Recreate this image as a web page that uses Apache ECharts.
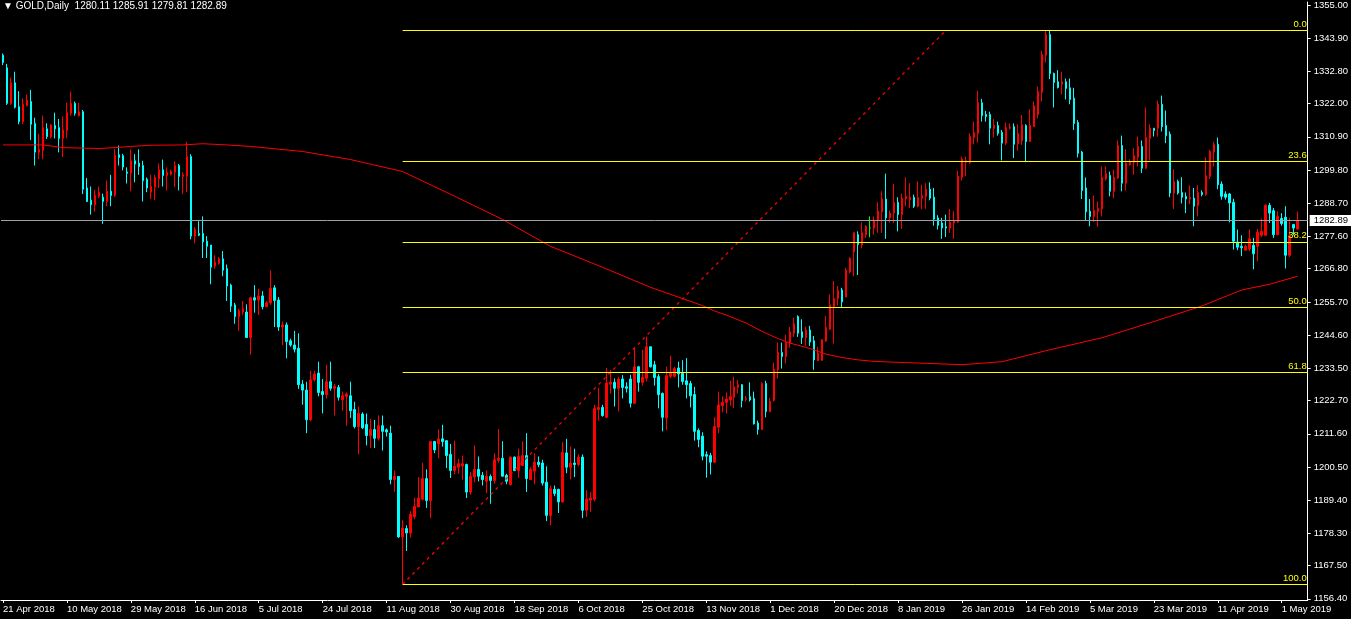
<!DOCTYPE html>
<html><head><meta charset="utf-8">
<script src="https://cdn.jsdelivr.net/npm/echarts@6/dist/echarts.min.js"></script>
<style>html,body{margin:0;padding:0;background:#000;}#c{width:1351px;height:619px;}</style>
</head><body><div id="c"></div>
<script>
const symbolName = 'GOLD,Daily';
const dateLabels = ['21 Apr 2018','10 May 2018','29 May 2018','16 Jun 2018','5 Jul 2018','24 Jul 2018','11 Aug 2018','30 Aug 2018','18 Sep 2018','6 Oct 2018','25 Oct 2018','13 Nov 2018','1 Dec 2018','20 Dec 2018','8 Jan 2019','26 Jan 2019','14 Feb 2019','5 Mar 2019','23 Mar 2019','11 Apr 2019','1 May 2019'];
const labelStep = 16;
const priceTicks = [1355.00,1343.90,1332.80,1322.00,1310.90,1299.80,1288.70,1277.60,1266.80,1255.70,1244.60,1233.50,1222.70,1211.60,1200.50,1189.40,1178.30,1167.50,1156.40];
// [open, close, low, high]
const candles = [
[1338.2,1335.8,1334.9,1338.8],[1334.0,1322.1,1321.6,1335.3],[1322.1,1329.0,1321.6,1330.7],[1329.0,1320.8,1320.4,1332.7],
[1321.0,1316.0,1315.1,1326.2],[1316.0,1321.8,1315.1,1323.8],[1321.3,1323.2,1321.2,1325.1],[1322.7,1315.1,1309.8,1326.6],
[1315.4,1305.8,1301.3,1317.3],[1305.8,1306.7,1303.4,1311.9],[1306.3,1314.0,1303.4,1318.0],[1313.6,1311.0,1310.2,1315.4],
[1311.0,1314.9,1310.4,1315.1],[1314.7,1313.6,1310.4,1319.0],[1314.0,1310.4,1305.7,1316.9],[1310.4,1313.2,1304.1,1317.7],
[1313.0,1319.0,1310.4,1322.4],[1318.8,1322.1,1318.0,1326.0],[1322.1,1318.8,1318.0,1322.7],[1318.0,1319.3,1317.7,1322.3],
[1319.3,1293.4,1291.8,1319.9],[1293.8,1289.3,1289.1,1297.1],[1289.7,1288.2,1284.9,1294.3],[1288.2,1291.3,1285.8,1293.2],
[1291.0,1292.3,1290.4,1294.3],[1290.7,1289.3,1281.8,1291.9],[1289.3,1292.7,1287.7,1296.3],[1292.7,1291.3,1287.7,1298.2],
[1291.3,1304.7,1290.8,1306.9],[1304.9,1304.0,1301.3,1308.0],[1304.6,1300.8,1299.7,1305.2],[1299.1,1298.7,1295.3,1300.7],
[1298.8,1302.9,1292.7,1306.7],[1302.9,1301.8,1295.7,1305.1],[1302.1,1301.0,1298.2,1306.7],[1301.3,1296.2,1289.3,1302.9],
[1296.7,1293.8,1292.4,1297.3],[1292.4,1294.3,1290.1,1298.2],[1294.1,1297.3,1289.7,1298.2],[1296.9,1299.9,1293.8,1302.0],
[1299.9,1298.0,1294.3,1303.3],[1298.0,1299.0,1293.0,1300.7],[1298.4,1299.3,1298.0,1299.9],[1299.1,1301.3,1294.1,1302.7],
[1301.3,1297.7,1293.0,1301.8],[1297.7,1298.2,1291.8,1299.1],[1297.7,1304.3,1292.4,1309.3],[1304.3,1277.7,1276.6,1305.1],
[1277.7,1279.9,1275.3,1280.7],[1278.6,1278.0,1277.7,1282.7],[1278.6,1275.8,1270.4,1284.3],[1276.0,1274.3,1270.4,1277.7],
[1274.7,1267.3,1261.6,1274.7],[1267.7,1269.0,1266.8,1271.3],[1268.6,1270.1,1268.2,1270.7],[1270.1,1266.3,1264.3,1272.7],
[1266.8,1261.0,1256.0,1268.2],[1261.3,1254.3,1252.3,1261.8],[1254.7,1250.8,1248.4,1255.4],[1250.8,1252.7,1246.0,1253.4],
[1252.3,1253.4,1251.3,1256.0],[1252.3,1243.8,1243.6,1254.9],[1243.8,1257.1,1238.0,1257.4],[1257.1,1256.3,1252.1,1261.3],
[1256.3,1257.7,1251.3,1260.1],[1257.7,1254.1,1253.2,1259.3],[1254.1,1255.4,1254.0,1256.0],[1255.4,1260.2,1254.7,1266.3],
[1260.4,1256.2,1247.3,1261.3],[1256.3,1247.3,1246.0,1257.3],[1247.3,1248.0,1241.3,1249.1],[1248.0,1242.4,1236.8,1248.8],
[1242.7,1241.3,1240.7,1243.4],[1241.3,1239.9,1238.8,1246.0],[1240.2,1228.0,1226.6,1245.2],[1228.2,1226.2,1221.3,1229.6],
[1226.2,1216.3,1211.8,1229.0],[1216.3,1229.6,1215.8,1232.7],[1229.6,1231.6,1229.1,1232.7],[1231.9,1225.4,1224.1,1235.7],
[1225.7,1224.7,1218.4,1229.9],[1224.7,1229.0,1223.4,1234.7],[1229.0,1226.8,1226.0,1235.7],[1226.8,1227.4,1217.7,1228.2],
[1227.1,1223.8,1222.7,1227.9],[1223.0,1224.3,1219.3,1225.7],[1224.1,1224.9,1214.3,1225.4],[1224.3,1219.3,1216.9,1229.0],
[1219.7,1214.0,1213.4,1222.3],[1214.0,1218.4,1204.7,1220.7],[1218.2,1213.6,1213.2,1218.8],[1214.7,1211.0,1207.7,1218.4],
[1211.0,1213.0,1206.8,1216.6],[1213.0,1210.1,1206.8,1216.2],[1210.1,1214.3,1209.3,1217.7],[1214.3,1212.4,1206.0,1217.7],
[1212.9,1212.2,1210.7,1213.4],[1211.8,1196.3,1194.7,1214.3],[1196.3,1197.3,1192.1,1199.3],[1197.3,1177.1,1176.8,1197.3],
[1177.1,1180.1,1161.2,1182.7],[1179.9,1178.4,1172.4,1181.0],[1178.4,1184.7,1176.9,1185.7],[1183.8,1187.3,1183.0,1190.2],
[1187.1,1190.1,1187.1,1197.1],[1189.7,1196.6,1189.3,1201.9],[1196.6,1189.3,1186.8,1199.7],[1189.3,1209.0,1183.4,1209.0],
[1209.0,1206.2,1205.1,1209.0],[1208.2,1209.9,1203.4,1213.0],[1209.9,1209.0,1207.3,1214.6],[1209.3,1204.3,1200.1,1209.3],
[1204.7,1199.3,1196.8,1208.2],[1199.3,1200.7,1198.0,1209.3],[1200.4,1201.6,1198.2,1203.2],[1200.8,1201.6,1196.2,1204.3],
[1201.3,1192.1,1190.1,1201.6],[1192.1,1197.3,1191.2,1198.8],[1197.1,1199.7,1195.4,1207.7],[1199.7,1197.4,1195.7,1204.0],
[1197.7,1196.3,1194.3,1198.8],[1195.7,1197.3,1191.8,1199.3],[1197.3,1196.0,1188.2,1198.0],[1196.0,1202.9,1194.9,1205.1],
[1202.7,1203.4,1201.9,1213.2],[1203.4,1197.4,1197.3,1209.1],[1197.7,1195.7,1194.7,1198.2],[1194.6,1203.8,1194.3,1204.0],
[1203.8,1199.3,1199.1,1204.0],[1199.3,1204.0,1196.9,1206.6],[1201.0,1204.3,1200.8,1209.1],[1204.3,1196.6,1192.1,1211.8],
[1196.3,1199.7,1196.2,1200.4],[1199.1,1202.1,1194.7,1205.1],[1202.1,1201.3,1200.4,1204.0],[1201.8,1195.1,1194.3,1202.9],
[1195.4,1184.3,1182.4,1200.7],[1184.3,1193.2,1181.0,1194.3],[1193.0,1191.6,1190.7,1194.3],[1193.0,1188.8,1185.1,1193.2],
[1188.8,1205.4,1188.6,1208.8],[1205.2,1200.4,1198.4,1209.9],[1200.4,1201.8,1196.3,1207.3],[1201.8,1201.3,1197.1,1206.6],
[1201.3,1203.8,1200.7,1204.7],[1203.8,1186.0,1183.4,1204.7],[1186.0,1189.7,1183.8,1192.7],[1189.4,1190.1,1185.4,1192.1],
[1189.7,1220.1,1189.0,1221.3],[1219.7,1220.4,1216.0,1226.9],[1220.4,1217.7,1217.3,1221.3],[1217.1,1228.6,1216.9,1233.6],
[1228.2,1228.8,1225.1,1233.0],[1228.8,1226.8,1220.7,1230.1],[1226.8,1229.9,1219.1,1230.7],[1229.9,1227.1,1223.4,1231.2],
[1227.3,1226.8,1225.4,1228.8],[1229.9,1221.8,1220.4,1231.3],[1221.8,1234.0,1221.6,1240.2],[1234.0,1228.8,1225.7,1234.3],
[1228.8,1230.4,1227.7,1239.7],[1230.2,1240.7,1229.1,1244.1],[1240.7,1234.0,1233.8,1240.7],[1234.7,1230.4,1227.7,1236.0],
[1230.7,1224.7,1220.1,1231.6],[1225.1,1217.1,1212.4,1225.4],[1216.9,1231.0,1212.9,1234.0],[1230.8,1231.8,1230.1,1237.7],
[1230.8,1233.4,1230.4,1234.0],[1233.6,1231.6,1227.1,1235.7],[1231.8,1229.1,1228.0,1236.2],[1229.3,1228.0,1223.4,1236.9],
[1228.4,1224.3,1220.4,1229.3],[1224.7,1212.4,1209.3,1227.3],[1212.7,1209.7,1207.1,1213.4],[1210.8,1204.1,1202.7,1212.1],
[1204.6,1204.1,1196.9,1205.7],[1204.3,1202.1,1198.0,1205.2],[1202.1,1214.0,1201.8,1217.1],[1213.8,1221.2,1211.8,1225.7],
[1221.0,1222.1,1218.8,1224.1],[1222.1,1223.2,1218.4,1225.4],[1222.9,1224.0,1221.0,1229.3],[1223.8,1227.3,1220.2,1230.7],
[1227.1,1228.0,1225.1,1229.6],[1228.0,1222.7,1220.4,1228.2],[1223.1,1223.4,1222.3,1224.3],[1224.0,1222.9,1222.4,1228.8],
[1223.4,1214.9,1214.7,1225.7],[1215.2,1213.0,1211.3,1216.0],[1213.0,1228.4,1213.0,1228.8],[1228.4,1219.0,1217.1,1229.3],
[1219.0,1222.4,1218.8,1223.6],[1222.7,1233.2,1222.4,1235.4],[1233.0,1238.8,1230.1,1242.1],[1238.8,1237.4,1233.4,1242.1],
[1237.4,1242.1,1235.1,1244.7],[1241.9,1245.7,1240.4,1247.3],[1245.2,1248.4,1244.0,1250.4],[1250.8,1245.2,1244.0,1251.2],
[1245.7,1243.8,1241.6,1249.9],[1243.8,1246.3,1241.0,1247.4],[1246.3,1242.3,1241.0,1247.7],[1242.7,1236.3,1233.0,1244.3],
[1236.0,1238.6,1236.0,1240.7],[1236.2,1243.0,1236.0,1243.2],[1242.7,1247.1,1242.3,1251.0],[1246.6,1254.7,1246.3,1258.2],
[1254.1,1256.8,1241.8,1262.7],[1256.8,1259.5,1254.5,1261.0],[1259.7,1255.7,1254.0,1260.4],[1257.3,1266.3,1257.3,1267.1],
[1265.7,1270.2,1265.2,1270.7],[1272.4,1278.8,1264.3,1279.0],[1278.2,1274.9,1264.7,1279.3],[1274.7,1278.8,1273.6,1282.3],
[1278.2,1281.0,1277.1,1281.3],[1280.4,1280.4,1277.3,1284.3],[1280.4,1282.9,1278.2,1284.3],[1282.9,1286.0,1278.8,1289.0],
[1285.8,1290.1,1278.8,1292.7],[1290.1,1283.8,1276.8,1298.6],[1283.8,1285.4,1282.3,1286.3],[1285.4,1289.0,1282.1,1295.2],
[1289.0,1284.9,1279.3,1290.7],[1284.9,1290.4,1280.1,1291.9],[1290.2,1291.0,1287.7,1297.3],[1289.9,1290.7,1287.1,1295.4],
[1290.7,1287.7,1287.1,1291.6],[1287.7,1290.7,1287.3,1296.0],[1290.4,1291.3,1286.6,1294.9],[1291.0,1293.4,1286.8,1295.4],
[1293.4,1290.4,1289.7,1295.7],[1290.7,1283.4,1281.2,1293.8],[1283.8,1281.3,1279.9,1284.7],[1282.1,1280.4,1276.8,1283.8],
[1280.8,1280.4,1277.4,1284.9],[1280.4,1282.3,1278.8,1286.8],[1282.1,1282.9,1276.8,1286.0],[1282.4,1297.7,1282.1,1299.6],
[1297.4,1303.4,1296.3,1304.3],[1302.4,1302.9,1297.7,1304.3],[1302.3,1311.0,1301.8,1312.1],[1310.7,1312.3,1308.4,1316.0],
[1312.1,1322.3,1309.0,1326.3],[1322.3,1318.0,1316.0,1323.6],[1318.4,1317.7,1316.0,1319.6],[1318.4,1313.8,1308.4,1319.3],
[1313.8,1314.7,1310.7,1316.9],[1314.7,1312.1,1311.3,1316.0],[1312.4,1308.8,1303.0,1313.2],[1308.8,1314.0,1308.2,1315.7],
[1313.8,1314.1,1313.4,1315.4],[1314.3,1308.4,1303.8,1315.4],[1308.6,1312.0,1306.3,1315.1],[1309.6,1314.9,1308.2,1318.2],
[1314.7,1309.3,1302.4,1315.1],[1309.3,1314.7,1309.3,1320.1],[1314.3,1321.3,1314.3,1322.7],[1318.4,1326.0,1317.1,1327.7],
[1325.8,1338.4,1322.7,1339.7],[1338.2,1345.1,1335.8,1346.6],[1345.1,1332.1,1330.2,1346.6],[1332.1,1329.1,1320.7,1332.4],
[1329.3,1327.4,1327.1,1333.2],[1328.5,1329.3,1325.1,1332.7],[1329.3,1327.1,1323.4,1330.4],[1327.3,1323.4,1321.8,1330.4],
[1323.8,1315.4,1313.2,1327.3],[1315.7,1305.4,1304.0,1316.5],[1305.8,1293.0,1290.1,1306.2],[1293.8,1285.8,1282.9,1297.3],
[1286.0,1284.3,1281.0,1290.1],[1284.3,1286.3,1282.4,1291.3],[1286.0,1286.9,1280.8,1289.3],[1286.8,1297.3,1284.3,1301.0],
[1296.9,1298.6,1296.3,1301.0],[1298.0,1292.7,1291.0,1299.3],[1292.7,1297.3,1290.4,1299.9],[1297.1,1308.0,1296.9,1309.7],
[1308.0,1295.4,1292.7,1311.3],[1295.4,1302.1,1293.0,1306.8],[1301.6,1302.3,1301.3,1303.4],[1302.3,1304.6,1298.2,1307.1],
[1304.1,1307.7,1301.0,1311.0],[1307.7,1300.4,1298.8,1309.7],[1300.4,1310.7,1300.1,1320.7],[1310.4,1313.8,1303.0,1315.1],
[1313.8,1313.0,1311.0,1313.8],[1313.8,1321.8,1311.0,1323.0],[1321.8,1314.3,1312.7,1324.7],[1314.7,1311.3,1308.8,1319.7],
[1311.8,1292.1,1290.7,1312.7],[1292.1,1296.0,1286.8,1300.1],[1296.0,1292.1,1291.6,1296.6],[1292.3,1290.7,1288.6,1297.4],
[1291.0,1290.1,1285.4,1292.3],[1290.1,1290.7,1288.4,1294.7],[1290.4,1287.7,1281.0,1293.8],[1287.9,1292.3,1284.3,1294.7],
[1292.3,1291.6,1291.0,1293.0],[1291.6,1297.9,1291.2,1304.0],[1297.7,1306.0,1296.8,1306.6],[1305.8,1308.4,1301.0,1309.3],
[1308.4,1294.9,1293.4,1310.7],[1295.1,1291.0,1289.9,1296.0],[1291.8,1290.7,1289.9,1292.7],[1291.8,1288.8,1282.3,1292.1],
[1289.0,1276.0,1273.2,1290.2],[1275.7,1274.0,1273.0,1279.9],[1274.3,1273.8,1271.0,1278.0],[1273.0,1274.3,1272.9,1274.9],
[1273.4,1276.8,1272.7,1279.9],[1274.6,1271.8,1266.6,1277.1],[1274.3,1279.0,1269.3,1280.1],[1278.0,1279.3,1277.4,1283.6],
[1278.0,1288.0,1277.7,1288.4],[1288.0,1285.4,1282.1,1288.8],[1286.2,1278.2,1277.1,1287.1],[1278.2,1284.3,1278.0,1286.0],
[1283.6,1281.9,1281.2,1285.4],[1284.0,1271.3,1266.9,1287.7],[1271.3,1277.9,1270.7,1283.8],[1281.6,1280.4,1278.0,1281.6],
[1280.11,1282.89,1279.81,1285.91]
];
// moving average: [bar index, value]
const maPoints = [[0,1308.2],[10,1308.2],[15,1307.3],[24,1307.0],[28,1307.3],[32,1307.7],[37,1308.1],[45,1308.2],[50,1308.6],[56,1308.2],
[62,1307.7],[75,1306.0],[87,1303.3],[100,1299.3],[112,1291.7],[125,1283.3],[137,1274.3],[150,1267.3],[162,1260.6],[175,1254.5],
[178,1252.7],[182,1250.8],[186,1248.6],[190,1245.8],[194,1243.4],[197,1241.9],[202,1240.1],[206,1238.2],[210,1237.1],[214,1236.3],
[218,1235.8],[222,1235.6],[226,1235.4],[240,1234.7],[250,1235.7],[262,1239.7],[275,1243.7],[287,1248.7],[300,1254.3],[310,1259.7],
[317,1261.6],[324,1264.3]];
const fibLow = 1161.2, fibLowBar = 100;
const fibHigh = 1346.6, fibHighBar = 236.5;
const fibLevels = [0, 23.6, 38.2, 50, 61.8, 100];

const nBars = candles.length;
const nSlots = nBars + 2;
const categories = Array.from({length: nSlots}, (_, i) => String(i));
const last = candles[nBars - 1];
const fmt = v => v.toFixed(2);
const isLabel = idx => idx % labelStep === 0 && idx / labelStep < dateLabels.length;
const FONT = 'Liberation Sans';

const fibMarks = fibLevels.map(l => {
  const p = fibHigh - (fibHigh - fibLow) * l / 100;
  return [{coord: [fibLowBar + 0.5, p], label: {formatter: l.toFixed(1)}}, {coord: [nSlots, p]}];
});

const chart = echarts.init(document.getElementById('c'));
chart.setOption({
  animation: false,
  backgroundColor: '#000',
  title: {
    text: '\u25BC ' + symbolName + '  ' + [last[0], last[3], last[2], last[1]].map(fmt).join(' '),
    left: 3, top: 1, padding: 0,
    textStyle: {color: '#fff', fontSize: 10, fontWeight: 'normal', fontFamily: FONT}
  },
  grid: {left: 0, top: 0, width: 1308, height: 600, containLabel: false},
  xAxis: [{
    type: 'category', data: categories, boundaryGap: true,
    axisLine: {onZero: false, lineStyle: {color: '#fff', width: 1}},
    axisTick: {show: true, interval: (i) => isLabel(i), alignWithLabel: true, length: 3, lineStyle: {color: '#fff'}},
    axisLabel: {interval: (i) => isLabel(i), formatter: (v, i) => isLabel(i) ? dateLabels[i / labelStep] : '',
      align: 'left', color: '#fff', fontSize: 9.5, fontFamily: FONT, margin: 4},
    splitLine: {show: false}
  }, {
    type: 'value', min: 0, max: nSlots, show: false
  }],
  yAxis: {
    type: 'value', position: 'right', min: 1156, max: 1356,
    axisLine: {show: true, onZero: false, lineStyle: {color: '#fff'}},
    axisTick: {show: true, customValues: priceTicks, length: 3, lineStyle: {color: '#fff'}},
    axisLabel: {customValues: priceTicks, formatter: fmt, color: '#fff', fontSize: 9.5, fontFamily: FONT, margin: 6},
    splitLine: {show: false}
  },
  series: [{
    type: 'candlestick', xAxisIndex: 0, data: candles, barWidth: 2,
    itemStyle: {color: '#ff0000', color0: '#00ffff', borderColor: '#ff0000', borderColor0: '#00ffff', borderColorDoji: '#00ff00', borderWidth: 1},
    markLine: {
      symbol: 'none', silent: true, animation: false,
      data: [{yAxis: last[1]}],
      lineStyle: {color: '#a0a0a8', type: 'solid', width: 1},
      label: {position: 'end', formatter: fmt(last[1]), backgroundColor: '#fff', color: '#000', padding: [1, 4, 0, 4],
        fontSize: 9.5, fontFamily: FONT, distance: 2}
    }
  }, {
    type: 'line', xAxisIndex: 1, data: maPoints.map(([b, v]) => [b + 0.5, v]),
    symbol: 'none', lineStyle: {color: '#ff0000', width: 1}, silent: true
  }, {
    type: 'line', xAxisIndex: 1, data: [[fibLowBar + 0.5, fibLow], [fibHighBar, fibHigh]],
    symbol: 'none', lineStyle: {color: '#ff0000', width: 1.3, type: [3, 4]}, silent: true,
    markLine: {
      symbol: 'none', silent: true, animation: false, data: fibMarks,
      lineStyle: {color: '#ffff00', type: 'solid', width: 1},
      label: {position: 'insideEndTop', color: '#ffff00', fontSize: 9.5, fontFamily: FONT, distance: 1}
    }
  }]
});
</script></body></html>
